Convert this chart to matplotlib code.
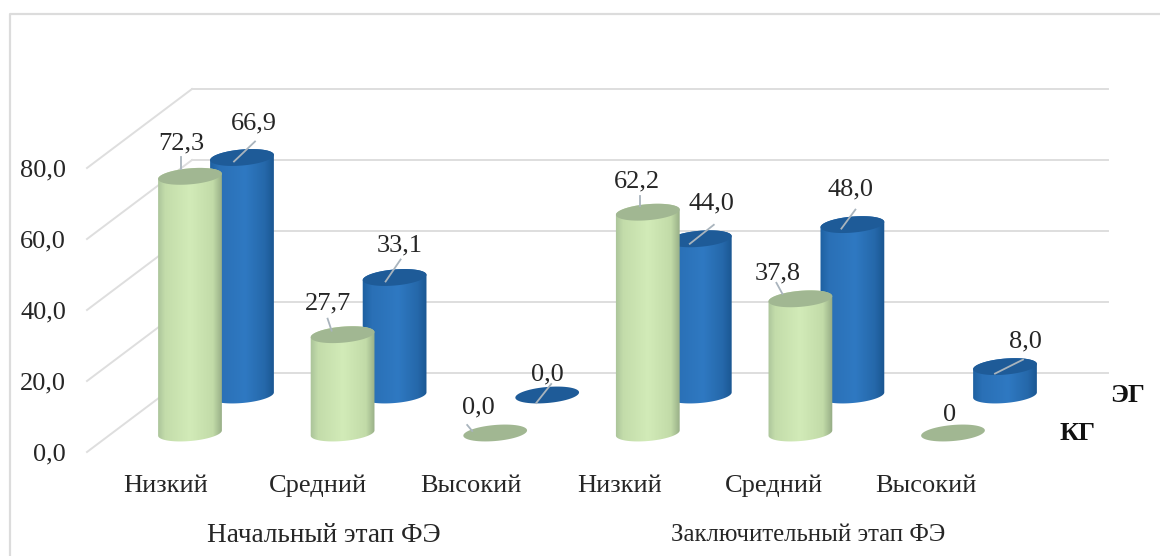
import numpy as np
import matplotlib
matplotlib.use("Agg")
import matplotlib.pyplot as plt
from matplotlib.colors import LinearSegmentedColormap
from matplotlib.patches import PathPatch, Polygon
from matplotlib.path import Path

# data
levels = ["Низкий", "Средний", "Высокий", "Низкий", "Средний", "Высокий"]
stages = ["Начальный этап ФЭ", "Заключительный этап ФЭ"]
series_names = ["КГ", "ЭГ"]
kg_values = [72.3, 27.7, 0.0, 62.2, 37.8, 0.0]
eg_values = [66.9, 33.1, 0.0, 44.0, 48.0, 8.0]
kg_labels = ["72,3", "27,7", "0,0", "62,2", "37,8", "0"]
eg_labels = ["66,9", "33,1", "0,0", "44,0", "48,0", "8,0"]
y_ticks = [0, 20, 40, 60, 80]
y_tick_labels = ["0,0", "20,0", "40,0", "60,0", "80,0"]

# label offsets from the cap centre, in pixels (dx, dy up)
kg_label_off = [(-9, 33), (-15, 31), (-17, 26), (-11, 31), (-23, 25), (-3, 18)]
eg_label_off = [(12, 34), (5, 32), (0, 21), (12, 35), (-2, 35), (20, 25)]
kg_leader = [(-9, 7, -9, 19), (-11, 4, -15, 16), (-23, 2, -28, 8), (-8, 6, -8, 16), (-18, 5, -24, 16), None]
eg_leader = [(-8, -4, 13, 16), (-9, -4, 6, 18), (-11, -8, 4, 11), (-10, -5, 14, 14), (-11, -4, 3, 15), (-10, -7, 18, 7)]
# caption layout
level_dx = [-24, -25, -24, -28, -26, -27]
stage_x = [324, 808]
stage_size = [19.6, 17.8]

PX = 3.55  # pixels per value unit
FLOOR_PX = 433  # pixel row of the front (КГ) floor
EG_SHIFT = 38 / PX
BACK_SHIFT = 60 / PX
FRONT_SHIFT = -19 / PX
R_X, R_Y, TILT = 32, 8, np.radians(5)
FS = 19

plt.rcParams["font.family"] = ["Liberation Serif", "DejaVu Serif"]
TEXT = "#262626"
GRID = "#dedede"

fig = plt.figure(figsize=(11.6, 5.56), dpi=100)
ax = fig.add_axes([0, 0, 1, 1])
ax.set_xlim(0, 1160)
ylim = ((FLOOR_PX - 556) / PX, FLOOR_PX / PX)
ax.set_ylim(*ylim)
ax.axis("off")


def ellipse_pts(cx, cy, t0=0, t1=2 * np.pi, n=60):
    t = np.linspace(t0, t1, n)
    x = R_X * np.cos(t) * np.cos(TILT) - R_Y * np.sin(t) * np.sin(TILT)
    y = R_X * np.cos(t) * np.sin(TILT) + R_Y * np.sin(t) * np.cos(TILT)
    return np.column_stack([cx + x, cy + y / PX])


def cylinder(cx, base, value, cmap, cap_color, z):
    top = base + value
    if value > 0:
        pts = np.vstack([ellipse_pts(cx, base, np.pi, 2 * np.pi),
                         ellipse_pts(cx, top, 0, np.pi)])
        body = PathPatch(Path(np.vstack([pts, pts[:1]]), closed=True), fc="none", ec="none",
                         transform=ax.transData)
        ax.add_patch(body)
        grad = np.linspace(0, 1, 128).reshape(1, -1)
        im = ax.imshow(grad, cmap=cmap, aspect="auto", zorder=z,
                       extent=(cx - R_X - 1, cx + R_X + 1, base - 5, top + 5))
        im.set_clip_path(body)
    ax.add_patch(Polygon(ellipse_pts(cx, top), closed=True, fc=cap_color, ec="none", zorder=z + 0.1))


kg_cmap = LinearSegmentedColormap.from_list(
    "kg", [(0, "#a9c299"), (0.12, "#c3dcaa"), (0.5, "#d2ebb8"), (0.85, "#c2dba8"), (1, "#94ab84")])
eg_cmap = LinearSegmentedColormap.from_list(
    "eg", [(0, "#1d5f9f"), (0.15, "#2a70b6"), (0.55, "#2f79c2"), (0.85, "#2568aa"), (1, "#1a5590")])

# back wall, side wall and floor lines
for v in y_ticks:
    ax.plot([192, 1108], [v + BACK_SHIFT] * 2, color=GRID, lw=1.4, zorder=1)
    ax.plot([87, 192], [v + FRONT_SHIFT, v + BACK_SHIFT], color=GRID, lw=1.4, zorder=1)
for v, lab in zip(y_ticks, y_tick_labels):
    ax.text(66, v + FRONT_SHIFT - 2 / PX, lab, ha="right", va="center", fontsize=FS, color=TEXT)

kg_x = 190 + 152.6 * np.arange(len(levels))
eg_x = kg_x + 52

for i in range(len(levels)):
    cylinder(eg_x[i], EG_SHIFT, eg_values[i], eg_cmap, "#1e5b98", 3)
for i in range(len(levels)):
    cylinder(kg_x[i], 0, kg_values[i], kg_cmap, "#a1b792", 5)


def put_label(x, top, text, off, leader, z):
    ax.annotate(text, (x, top), xytext=off, textcoords="offset pixels", ha="center", va="center",
                fontsize=FS, color=TEXT, zorder=8)
    if leader is not None:
        ax.plot([x + leader[0], x + leader[2]],
                [top + leader[1] / PX, top + leader[3] / PX],
                color="#a9b4bd", lw=1.3, zorder=z)


for i in range(len(levels)):
    put_label(eg_x[i], EG_SHIFT + eg_values[i], eg_labels[i], eg_label_off[i], eg_leader[i], 3.5)
    put_label(kg_x[i], kg_values[i], kg_labels[i], kg_label_off[i], kg_leader[i], 5.5)

# category and group captions
for x, dx, lab in zip(kg_x, level_dx, levels):
    ax.annotate(lab, (x + dx, 0), xytext=(0, -53), textcoords="offset pixels", ha="center", va="center",
                fontsize=FS, color=TEXT)
for x, size, lab in zip(stage_x, stage_size, stages):
    ax.annotate(lab, (x, 0), xytext=(0, -102), textcoords="offset pixels", ha="center", va="center",
                fontsize=size, color=TEXT)

# depth axis names
ax.text(1128, EG_SHIFT, series_names[1], ha="center", va="center", fontsize=FS,
        fontweight="bold", color="#111111")
ax.text(1077, -1 / PX, series_names[0], ha="center", va="center", fontsize=FS,
        fontweight="bold", color="#111111")

# chart area frame, its right and bottom edges are cut off in the source
frame_top = (FLOOR_PX - 14) / PX
ax.plot([10, 10, 1160], [ylim[0], frame_top, frame_top], color="#dcdcdc", lw=1.6, zorder=0)

fig.savefig("out.png", dpi=100, facecolor="white")
